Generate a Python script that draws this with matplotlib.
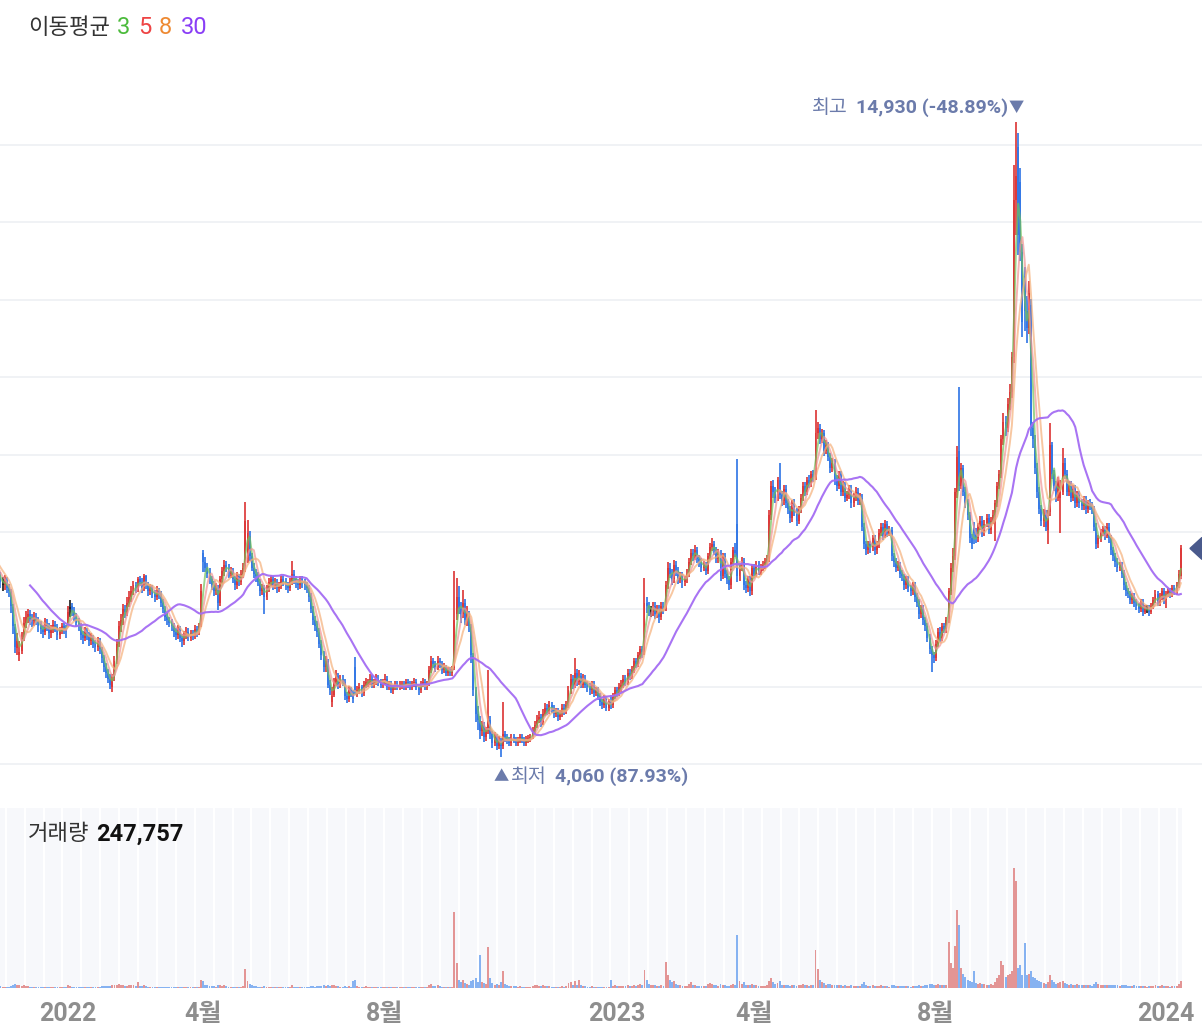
import numpy as np
import pandas as pd
import matplotlib
matplotlib.use("Agg")
import matplotlib.pyplot as plt
from matplotlib.patches import Polygon
from matplotlib.transforms import blended_transform_factory

plt.rcParams['font.family'] = ['Roboto', 'Noto Sans CJK KR', 'DejaVu Sans']

# daily candles (business days) starting here; prices in units of 10 won
start_date = "2021-10-28"

opens = [
    750, 762, 770, 755, 766, 775, 760, 750, 756, 745,
    750, 740, 735, 730, 725, 712, 700, 700, 706, 695,
    688, 662, 628, 592, 580, 588, 612, 635, 645, 650,
    642, 638, 645, 640, 630, 625, 620, 635, 630, 618,
    625, 632, 628, 615, 622, 630, 625, 635, 660, 665,
    655, 645, 635, 630, 615, 610, 620, 615, 605, 610,
    600, 595, 605, 590, 575, 560, 550, 540, 525, 542,
    572, 600, 630, 640, 660, 655, 670, 680, 690, 700,
    695, 710, 705, 695, 715, 700, 690, 695, 685, 680,
    690, 685, 670, 660, 645, 640, 635, 630, 620, 615,
    625, 610, 605, 615, 620, 610, 618, 615, 625, 620,
    632, 755, 740, 730, 720, 710, 700, 690, 695, 670,
    710, 725, 735, 730, 720, 725, 710, 700, 715, 705,
    720, 728, 745, 785, 750, 730, 720, 715, 705, 690,
    695, 680, 695, 705, 710, 700, 705, 695, 700, 710,
    705, 700, 695, 705, 720, 710, 705, 700, 710, 705,
    700, 695, 680, 660, 640, 630, 620, 600, 580, 560,
    570, 530, 500, 512, 535, 545, 530, 540, 535, 510,
    505, 520, 515, 560, 515, 520, 525, 515, 530, 532,
    535, 540, 530, 535, 540, 535, 530, 535, 540, 525,
    530, 520, 525, 530, 525, 528, 530, 525, 535, 530,
    525, 530, 535, 525, 520, 530, 535, 525, 532, 555,
    570, 565, 560, 570, 565, 555, 560, 550, 555, 550,
    558, 650, 680, 660, 650, 670, 640, 650, 628, 578,
    520, 480, 470, 450, 460, 440, 450, 470, 445, 430,
    440, 425, 432, 425, 445, 440, 435, 430, 440, 435,
    430, 435, 440, 435, 430, 435, 438, 440, 450, 460,
    470, 475, 465, 480, 490, 485, 495, 490, 480, 485,
    475, 480, 490, 485, 495, 520, 540, 530, 550, 535,
    545, 530, 540, 530, 525, 520, 530, 515, 520, 510,
    500, 495, 505, 490, 500, 495, 510, 520, 515, 525,
    530, 540, 535, 550, 545, 555, 570, 565, 580, 590,
    585, 670, 665, 655, 655, 665, 650, 660, 645, 665,
    662, 700, 730, 720, 710, 735, 725, 710, 715, 705,
    710, 720, 740, 755, 750, 760, 745, 740, 730, 735,
    725, 750, 765, 770, 760, 745, 755, 715, 750, 720,
    710, 700, 740, 760, 805, 715, 730, 740, 700, 695,
    710, 690, 730, 720, 735, 725, 730, 735, 740, 745,
    820, 870, 860, 850, 880, 855, 845, 865, 840, 830,
    815, 840, 825, 810, 830, 850, 870, 860, 880, 875,
    890, 885, 960, 970, 950, 960, 930, 940, 920, 900,
    910, 880, 870, 890, 860, 870, 850, 855, 865, 840,
    850, 860, 845, 850, 800, 770, 760, 770, 765, 780,
    760, 770, 790, 800, 785, 805, 790, 795, 750, 740,
    730, 735, 720, 715, 700, 710, 695, 690, 700, 680,
    670, 650, 660, 640, 630, 610, 590, 580, 575, 600,
    620, 610, 630, 625, 642, 690, 730, 750, 860, 930,
    870, 900, 860, 840, 820, 780, 800, 790, 780, 800,
    810, 790, 805, 815, 795, 810, 820, 840, 870, 890,
    950, 980, 970, 1010, 1030, 1090, 1360, 1450, 1390, 1270,
    1230, 1170, 1140, 1180, 970, 950, 900, 860, 830, 810,
    820, 795, 825, 940, 890, 870, 850, 850, 860, 910,
    890, 860, 870, 850, 865, 840, 855, 840, 835, 845,
    830, 840, 835, 830, 800, 770, 780, 790, 795, 785,
    800, 780, 760, 750, 740, 730, 735, 720, 700, 690,
    685, 675, 680, 670, 665, 660, 670, 655, 660, 660,
    655, 665, 675, 685, 670, 680, 690, 675, 685, 690,
    685, 695, 690, 700, 715,
]

highs = [
    772, 784, 780, 774, 788, 782, 768, 766, 764, 760,
    758, 750, 744, 740, 734, 722, 714, 718, 714, 702,
    694, 668, 634, 618, 604, 620, 645, 656, 660, 658,
    650, 654, 652, 646, 638, 632, 644, 642, 636, 632,
    640, 638, 634, 628, 636, 636, 632, 665, 674, 670,
    662, 652, 644, 636, 622, 628, 626, 620, 618, 614,
    606, 612, 610, 594, 580, 566, 556, 548, 548, 578,
    608, 638, 650, 668, 666, 680, 690, 698, 708, 706,
    714, 716, 712, 720, 718, 706, 702, 700, 692, 698,
    696, 690, 676, 664, 652, 646, 642, 636, 626, 632,
    630, 616, 622, 628, 626, 624, 624, 632, 630, 636,
    702, 760, 748, 738, 730, 716, 708, 704, 700, 716,
    732, 744, 742, 736, 732, 730, 716, 722, 720, 726,
    738, 842, 812, 792, 756, 738, 728, 722, 710, 702,
    700, 700, 712, 718, 716, 712, 710, 706, 716, 716,
    712, 706, 712, 742, 726, 716, 710, 716, 716, 710,
    706, 700, 686, 664, 648, 638, 626, 606, 588, 578,
    574, 538, 526, 542, 554, 550, 546, 546, 540, 518,
    528, 526, 520, 577, 528, 532, 530, 536, 542, 540,
    548, 546, 540, 548, 546, 540, 540, 548, 544, 536,
    536, 530, 536, 536, 536, 536, 536, 540, 540, 536,
    536, 542, 540, 530, 536, 542, 540, 536, 562, 578,
    576, 570, 578, 576, 570, 566, 564, 560, 560, 562,
    725, 712, 698, 672, 692, 676, 664, 656, 634, 584,
    526, 494, 476, 468, 466, 458, 555, 476, 450, 448,
    446, 442, 438, 500, 450, 446, 440, 446, 446, 440,
    440, 446, 446, 440, 441, 443, 446, 458, 468, 478,
    484, 480, 488, 498, 496, 502, 500, 495, 490, 490,
    486, 496, 496, 502, 528, 548, 546, 575, 556, 554,
    550, 548, 546, 536, 532, 536, 536, 526, 526, 516,
    506, 512, 510, 506, 512, 516, 526, 526, 532, 538,
    546, 546, 556, 556, 562, 576, 576, 586, 596, 596,
    712, 680, 672, 664, 672, 672, 666, 666, 672, 672,
    708, 740, 738, 728, 744, 742, 732, 722, 722, 716,
    728, 746, 762, 762, 768, 766, 752, 746, 742, 740,
    756, 772, 780, 776, 766, 762, 760, 756, 756, 726,
    716, 746, 766, 772, 916, 736, 748, 746, 708, 716,
    716, 736, 736, 742, 742, 736, 742, 746, 752, 828,
    878, 880, 868, 886, 910, 862, 872, 872, 848, 836,
    846, 848, 832, 836, 856, 876, 876, 886, 888, 896,
    898, 1000, 980, 976, 968, 966, 948, 946, 926, 918,
    916, 888, 896, 896, 878, 876, 862, 872, 872, 858,
    868, 866, 858, 856, 806, 776, 776, 776, 786, 786,
    776, 796, 806, 806, 812, 810, 802, 800, 756, 746,
    742, 740, 726, 720, 716, 716, 700, 706, 706, 686,
    676, 666, 666, 646, 636, 616, 596, 586, 606, 626,
    628, 636, 636, 646, 696, 738, 764, 866, 938, 1039,
    910, 906, 868, 848, 826, 788, 808, 798, 806, 818,
    818, 812, 822, 822, 816, 828, 846, 876, 898, 958,
    995, 990, 1020, 1045, 1100, 1420, 1493, 1475, 1415, 1285,
    1245, 1195, 1220, 1190, 980, 958, 910, 868, 838, 830,
    828, 828, 978, 946, 898, 878, 886, 880, 935, 918,
    898, 878, 878, 872, 872, 862, 862, 848, 852, 852,
    846, 848, 842, 836, 806, 786, 796, 802, 802, 806,
    806, 786, 766, 756, 746, 740, 740, 726, 706, 696,
    690, 686, 686, 676, 670, 676, 676, 666, 666, 666,
    670, 680, 692, 690, 686, 696, 696, 690, 696, 696,
    700, 700, 706, 726, 769,
]

lows = [
    738, 752, 745, 744, 758, 750, 740, 742, 736, 736,
    732, 726, 720, 716, 706, 696, 690, 692, 686, 680,
    652, 616, 584, 580, 570, 582, 604, 626, 636, 632,
    628, 630, 632, 620, 616, 610, 614, 622, 608, 610,
    618, 620, 606, 608, 616, 616, 610, 628, 645, 648,
    638, 628, 622, 606, 600, 604, 606, 596, 598, 592,
    586, 588, 582, 566, 552, 542, 532, 522, 517, 536,
    565, 594, 620, 632, 644, 648, 662, 672, 684, 686,
    688, 698, 686, 690, 694, 682, 684, 678, 672, 674,
    676, 662, 652, 638, 632, 628, 622, 612, 606, 608,
    602, 594, 598, 608, 604, 604, 606, 608, 612, 614,
    628, 722, 722, 712, 702, 692, 682, 684, 658, 664,
    702, 716, 722, 712, 712, 704, 692, 694, 698, 700,
    712, 722, 738, 742, 724, 712, 706, 698, 682, 684,
    650, 674, 688, 698, 692, 694, 686, 688, 694, 698,
    692, 686, 690, 700, 702, 696, 692, 694, 696, 692,
    686, 672, 652, 632, 622, 612, 592, 572, 552, 552,
    524, 512, 492, 508, 528, 522, 524, 528, 504, 498,
    500, 508, 498, 514, 508, 514, 508, 510, 524, 526,
    530, 524, 524, 530, 528, 524, 524, 530, 520, 520,
    516, 514, 520, 520, 520, 522, 520, 520, 524, 520,
    520, 526, 520, 512, 516, 526, 520, 520, 528, 550,
    558, 552, 554, 558, 548, 550, 544, 544, 544, 544,
    554, 640, 650, 636, 644, 632, 630, 620, 566, 510,
    466, 452, 436, 442, 432, 434, 446, 436, 422, 425,
    418, 420, 406, 420, 432, 428, 424, 425, 430, 424,
    425, 430, 430, 424, 425, 430, 432, 436, 446, 456,
    464, 458, 460, 476, 478, 480, 482, 472, 474, 468,
    470, 474, 478, 480, 490, 514, 522, 524, 528, 530,
    524, 524, 524, 518, 512, 514, 508, 510, 504, 494,
    488, 490, 484, 485, 488, 490, 506, 508, 510, 518,
    524, 528, 530, 538, 540, 550, 558, 560, 574, 576,
    580, 652, 648, 646, 648, 642, 644, 636, 640, 650,
    656, 694, 712, 700, 704, 716, 702, 704, 696, 698,
    704, 714, 734, 742, 744, 738, 732, 722, 724, 718,
    720, 744, 758, 752, 738, 738, 708, 710, 712, 702,
    692, 694, 734, 748, 706, 708, 724, 692, 686, 688,
    682, 684, 712, 714, 718, 718, 724, 728, 734, 740,
    812, 850, 840, 844, 848, 836, 838, 832, 822, 806,
    808, 818, 802, 804, 824, 844, 852, 854, 866, 868,
    876, 880, 950, 942, 944, 922, 924, 912, 892, 894,
    872, 862, 864, 852, 852, 842, 844, 848, 832, 834,
    844, 838, 838, 792, 762, 752, 754, 756, 758, 752,
    754, 764, 784, 778, 780, 782, 784, 742, 732, 722,
    724, 712, 708, 692, 694, 688, 682, 684, 672, 662,
    642, 644, 632, 622, 602, 582, 551, 566, 570, 594,
    602, 604, 618, 618, 636, 684, 722, 744, 850, 862,
    864, 852, 832, 812, 772, 762, 770, 772, 774, 794,
    782, 784, 800, 788, 788, 804, 775, 834, 864, 884,
    940, 955, 962, 1000, 1020, 1080, 1300, 1265, 1255, 1125,
    1135, 1115, 1130, 955, 935, 890, 850, 822, 802, 800,
    792, 770, 818, 882, 862, 842, 844, 789, 854, 882,
    852, 852, 842, 844, 832, 834, 832, 828, 828, 822,
    824, 828, 822, 792, 762, 764, 774, 784, 778, 780,
    772, 752, 742, 732, 722, 724, 712, 692, 682, 678,
    668, 668, 662, 658, 652, 654, 648, 650, 652, 648,
    650, 660, 670, 664, 664, 674, 668, 661, 680, 678,
    680, 684, 684, 696, 710,
]

closes = [
    760, 770, 755, 765, 775, 760, 750, 755, 745, 750,
    740, 735, 730, 725, 715, 705, 700, 708, 695, 690,
    665, 630, 595, 605, 585, 610, 635, 645, 650, 642,
    638, 645, 640, 630, 625, 620, 635, 630, 618, 625,
    632, 628, 615, 622, 630, 625, 620, 655, 660, 655,
    645, 635, 630, 615, 610, 620, 615, 605, 610, 600,
    595, 605, 590, 575, 560, 550, 540, 530, 540, 570,
    600, 630, 640, 660, 655, 670, 680, 690, 700, 695,
    710, 705, 695, 715, 700, 690, 695, 685, 680, 690,
    685, 670, 660, 645, 640, 635, 630, 620, 615, 625,
    610, 605, 615, 620, 610, 618, 615, 625, 620, 630,
    690, 740, 730, 720, 710, 700, 690, 695, 670, 710,
    725, 735, 730, 720, 725, 710, 700, 715, 705, 720,
    730, 810, 790, 750, 730, 720, 715, 705, 690, 695,
    680, 695, 705, 710, 700, 705, 695, 700, 710, 705,
    700, 695, 705, 720, 710, 705, 700, 710, 705, 700,
    695, 680, 660, 640, 630, 620, 600, 580, 560, 570,
    530, 520, 510, 535, 545, 530, 540, 535, 510, 505,
    520, 515, 505, 520, 520, 525, 515, 530, 535, 535,
    540, 530, 535, 540, 535, 530, 535, 540, 525, 530,
    520, 525, 530, 525, 530, 530, 525, 535, 530, 525,
    530, 535, 525, 520, 530, 535, 525, 530, 555, 570,
    565, 560, 570, 565, 555, 560, 550, 555, 550, 555,
    640, 680, 660, 650, 670, 640, 650, 630, 580, 520,
    480, 470, 450, 460, 440, 450, 470, 445, 430, 440,
    425, 435, 425, 445, 440, 435, 430, 440, 435, 430,
    435, 440, 435, 430, 435, 438, 440, 450, 460, 470,
    475, 465, 480, 490, 485, 495, 490, 480, 485, 475,
    480, 490, 485, 495, 520, 540, 530, 550, 535, 545,
    530, 540, 530, 525, 520, 530, 515, 520, 510, 500,
    495, 505, 490, 500, 495, 510, 520, 515, 525, 530,
    540, 535, 550, 545, 555, 570, 565, 580, 590, 585,
    670, 665, 660, 655, 665, 650, 660, 645, 665, 660,
    700, 730, 720, 710, 735, 725, 710, 715, 705, 710,
    720, 740, 755, 750, 760, 745, 740, 730, 735, 725,
    750, 765, 770, 760, 745, 755, 715, 750, 720, 710,
    700, 740, 760, 755, 715, 730, 740, 700, 695, 710,
    690, 730, 720, 735, 725, 730, 735, 740, 745, 820,
    870, 860, 850, 880, 855, 845, 865, 840, 830, 815,
    840, 825, 810, 830, 850, 870, 860, 880, 875, 890,
    885, 960, 970, 950, 960, 930, 940, 920, 900, 910,
    880, 870, 890, 860, 870, 850, 855, 865, 840, 850,
    860, 845, 850, 800, 770, 760, 770, 765, 780, 760,
    770, 790, 800, 785, 805, 790, 795, 750, 740, 730,
    735, 720, 715, 700, 710, 695, 690, 700, 680, 670,
    650, 660, 640, 630, 610, 590, 580, 575, 600, 620,
    610, 630, 625, 640, 690, 730, 750, 860, 920, 870,
    900, 860, 840, 820, 780, 770, 790, 780, 800, 810,
    790, 805, 815, 795, 810, 820, 840, 870, 890, 950,
    980, 970, 1010, 1030, 1090, 1360, 1400, 1300, 1270, 1150,
    1170, 1140, 1200, 970, 950, 900, 860, 830, 810, 820,
    800, 820, 940, 890, 870, 850, 880, 860, 910, 890,
    860, 870, 850, 865, 840, 855, 840, 835, 845, 830,
    840, 835, 830, 800, 770, 780, 790, 795, 785, 800,
    780, 760, 750, 740, 730, 735, 720, 700, 690, 685,
    675, 680, 670, 665, 660, 670, 655, 660, 660, 655,
    665, 675, 685, 670, 680, 690, 675, 685, 690, 685,
    695, 690, 700, 720, 763,
]

# volume in thousands of shares
volumes_k = [
    60, 80, 55, 50, 70, 45, 40, 35, 40, 38,
    35, 40, 38, 42, 50, 60, 45, 40, 50, 45,
    80, 120, 150, 90, 110, 70, 90, 60, 55, 40,
    35, 45, 30, 40, 35, 38, 50, 30, 45, 35,
    40, 30, 45, 35, 40, 30, 35, 90, 70, 45,
    40, 38, 35, 50, 45, 40, 30, 35, 30, 40,
    35, 30, 45, 60, 70, 55, 60, 80, 110, 90,
    120, 150, 90, 110, 60, 80, 90, 100, 120, 60,
    200, 80, 60, 110, 70, 50, 45, 40, 35, 50,
    40, 45, 50, 40, 35, 30, 35, 40, 30, 35,
    40, 30, 35, 40, 30, 35, 30, 40, 35, 45,
    300, 250, 120, 90, 80, 70, 60, 50, 90, 110,
    80, 90, 60, 50, 45, 50, 40, 45, 40, 50,
    60, 670, 260, 150, 90, 70, 60, 50, 45, 40,
    70, 50, 45, 50, 40, 35, 40, 35, 45, 35,
    30, 35, 40, 90, 45, 35, 30, 40, 30, 35,
    40, 50, 60, 55, 50, 60, 70, 80, 90, 60,
    90, 80, 100, 90, 70, 60, 50, 45, 60, 50,
    60, 50, 250, 280, 70, 50, 45, 50, 60, 40,
    45, 40, 35, 40, 35, 30, 35, 40, 45, 35,
    30, 35, 30, 40, 35, 30, 35, 40, 30, 35,
    30, 35, 40, 30, 35, 40, 30, 35, 120, 150,
    80, 60, 90, 60, 50, 45, 50, 40, 45, 40,
    2700, 880, 280, 200, 300, 180, 150, 120, 250, 300,
    350, 200, 1170, 220, 180, 150, 1450, 350, 160, 120,
    130, 100, 200, 600, 150, 100, 80, 70, 60, 55,
    50, 60, 45, 50, 40, 45, 50, 80, 90, 100,
    70, 60, 90, 80, 60, 70, 50, 45, 40, 50,
    45, 60, 50, 70, 180, 200, 100, 250, 120, 280,
    90, 80, 60, 50, 45, 60, 50, 40, 45, 40,
    35, 40, 45, 40, 280, 80, 90, 60, 70, 60,
    80, 60, 90, 70, 80, 110, 80, 120, 140, 90,
    640, 300, 150, 120, 100, 90, 80, 70, 90, 80,
    920, 450, 280, 200, 250, 150, 120, 90, 80, 70,
    80, 150, 200, 120, 100, 80, 70, 60, 70, 60,
    150, 180, 140, 100, 90, 80, 150, 120, 90, 70,
    60, 100, 130, 100, 1880, 250, 150, 200, 120, 90,
    110, 150, 100, 90, 80, 70, 60, 80, 90, 250,
    350, 200, 150, 180, 250, 120, 110, 100, 90, 80,
    110, 90, 80, 100, 120, 150, 90, 110, 80, 100,
    90, 1350, 670, 280, 200, 180, 120, 130, 150, 100,
    120, 90, 110, 100, 80, 90, 70, 80, 90, 70,
    80, 70, 60, 150, 200, 120, 80, 70, 90, 70,
    60, 80, 90, 70, 80, 60, 50, 120, 100, 80,
    60, 70, 60, 80, 70, 60, 50, 60, 80, 70,
    90, 70, 80, 90, 110, 130, 150, 90, 120, 140,
    100, 120, 90, 110, 1630, 900, 700, 1500, 2760, 2230,
    700, 500, 400, 300, 250, 200, 600, 180, 150, 160,
    130, 140, 120, 110, 130, 120, 200, 350, 450, 960,
    800, 400, 450, 500, 600, 4250, 3790, 700, 800, 450,
    1600, 450, 500, 600, 400, 350, 300, 250, 200, 180,
    150, 200, 450, 280, 200, 150, 180, 200, 250, 160,
    140, 120, 130, 110, 100, 150, 120, 100, 90, 110,
    100, 90, 80, 150, 200, 130, 120, 100, 90, 110,
    100, 120, 110, 90, 100, 80, 90, 110, 100, 80,
    70, 80, 90, 70, 80, 60, 70, 60, 50, 60,
    70, 80, 100, 70, 80, 90, 60, 70, 60, 50,
    60, 70, 80, 150, 247.757,
]

ma_windows = [3, 5, 8, 30]
ma_colors = ['#72c25a', '#f29595', '#f5b07a', '#a46cf3']
legend_colors = ['#4cbb3c', '#ee4444', '#ee8a33', '#8a3ef6']

o = np.array(opens) * 10
h = np.array(highs) * 10
l = np.array(lows) * 10
c = np.array(closes) * 10
vol = np.array(volumes_k) * 1000
n = len(c)
assert len(o) == len(h) == len(l) == n == len(vol), (len(o), len(h), len(l), n, len(vol))
dates = pd.bdate_range(start_date, periods=n)
idx = np.arange(n)

RED, BLUE, DOJI = '#dd3a3a', '#3579e6', '#222222'
up = c > o
flat = c == o
cols = np.where(flat, DOJI, np.where(up, RED, BLUE))
vcols = np.where(c >= o, '#e39595', '#86b2f1')

W, H = 1202, 1030
fig = plt.figure(figsize=(W / 100, H / 100), dpi=100)
fig.patch.set_facecolor('white')

# price panel: y pixel 60..790, volume panel: y pixel 808..988
ax = fig.add_axes([0, 1 - 790 / H, 1, 730 / H])
axv = fig.add_axes([0, 1 - 988 / H, 1, 180 / H])

x0, x1 = 14.78, 584.03
price_lo, price_hi = 3494, 15992

for a in (ax, axv):
    a.set_xlim(x0, x1)
    for s in a.spines.values():
        s.set_visible(False)
    a.set_facecolor('none')

ax.set_ylim(price_lo, price_hi)
ax.set_xticks([])
ax.set_yticks([])
grid_vals = 14537 - 1325 * np.arange(9)
for g in grid_vals:
    ax.axhline(g, color='#eff1f5', lw=1.3, zorder=0)

# candles: at this density wick and body are drawn about the same width
ax.vlines(idx, l, h, colors=cols, linewidth=1.25, zorder=2)
body = np.maximum(np.abs(c - o), 20)
ax.bar(idx, body, bottom=np.minimum(o, c), width=0.92, color=cols, linewidth=0, zorder=3)

# moving averages
cs = pd.Series(c, dtype=float)
for win, col in zip(ma_windows, ma_colors):
    ma = cs.rolling(win).mean()
    if win == 30:
        ax.plot(idx, ma, color=col, lw=1.5, alpha=0.95, zorder=5)
    else:
        ax.plot(idx, ma, color=col, lw=1.4, alpha=0.7, zorder=4)

# high / low annotations
last = c[-1]
i_hi, i_lo = int(np.argmax(h)), int(np.argmin(l))
hi_pct = (last / h[i_hi] - 1) * 100
lo_pct = (last / l[i_lo] - 1) * 100
ann_col = '#6b7bab'
fs_ann = 14

fig.canvas.draw()
r = fig.canvas.get_renderer()

ax.annotate('▼', xy=(i_hi, h[i_hi]), xytext=(0, 14), textcoords='offset pixels',
            ha='center', va='center', color=ann_col, fontsize=11)
tn = ax.annotate(f'{h[i_hi]:,.0f} ({hi_pct:.2f}%)', xy=(i_hi, h[i_hi]), xytext=(-8, 14),
                 textcoords='offset pixels', ha='right', va='center', color=ann_col,
                 fontsize=fs_ann, fontweight='bold')
bb = tn.get_window_extent(r)
xh = ax.transData.transform((i_hi, 0))[0]
ax.annotate('최고', xy=(i_hi, h[i_hi]), xytext=(bb.x0 - xh - 8, 14),
            textcoords='offset pixels', ha='right', va='center', color=ann_col, fontsize=fs_ann)

ax.annotate('▲', xy=(i_lo, l[i_lo]), xytext=(0, -20), textcoords='offset pixels',
            ha='center', va='center', color=ann_col, fontsize=11)
tl = ax.annotate('최저', xy=(i_lo, l[i_lo]), xytext=(10, -20), textcoords='offset pixels',
                 ha='left', va='center', color=ann_col, fontsize=fs_ann)
bb = tl.get_window_extent(r)
xl = ax.transData.transform((i_lo, 0))[0]
ax.annotate(f'{l[i_lo]:,.0f} ({lo_pct:.2f}%)', xy=(i_lo, l[i_lo]), xytext=(bb.x1 - xl + 8, -20),
            textcoords='offset pixels', ha='left', va='center', color=ann_col,
            fontsize=fs_ann, fontweight='bold')

# current price marker at the right edge
tr = blended_transform_factory(ax.transAxes, ax.transData)
dy = 11 * (price_hi - price_lo) / 730
ax.add_patch(Polygon([(1190 / W, last), (1.0, last + dy), (1.0, last - dy)],
                     closed=True, transform=tr, color='#4a5a8c', clip_on=False, zorder=6))


def px(x, y):
    return x / W, 1 - y / H


# moving average legend
fig.text(*px(28, 28), '이동평균', color='#333333', fontsize=16, ha='left', va='center')
for xp, win, col in zip([117, 138, 159, 181], ma_windows, legend_colors):
    fig.text(*px(xp, 28), str(win), color=col, fontsize=17, ha='left', va='center')

# volume panel
vmax = 180 * 247757 / 7
axv.set_ylim(0, vmax)
axv.axvspan(x0, n - 0.5, color='#f7f8fb', zorder=0, lw=0)
axv.vlines(np.arange(17.5, n - 1, 8.95), 0, vmax, colors='white', lw=1.6, zorder=1)
axv.bar(idx, vol, width=0.92, color=vcols, linewidth=0, zorder=2)
axv.set_yticks([])

tv = fig.text(*px(28, 834), '거래량', color='#333333', fontsize=16, ha='left', va='center')
bb = tv.get_window_extent(r)
fig.text((bb.x1 + 7) / W, 1 - 834 / H, f'{int(round(vol[-1])):,}', color='#111111',
         fontsize=17, fontweight='bold', ha='left', va='center')

# month ticks
ticks, labels = [], []
prev = None
for i, d in enumerate(dates):
    key = (d.year, d.month)
    if key != prev and d.month in (1, 4, 8) and prev is not None:
        ticks.append(i)
        labels.append(str(d.year) if d.month == 1 else f'{d.month}월')
    prev = key
axv.set_xticks(ticks)
axv.set_xticklabels(labels, fontsize=18, fontweight='bold', color='#8e8e8e')
axv.tick_params(axis='x', length=0, pad=10)

fig.savefig('out.png', dpi=100)
